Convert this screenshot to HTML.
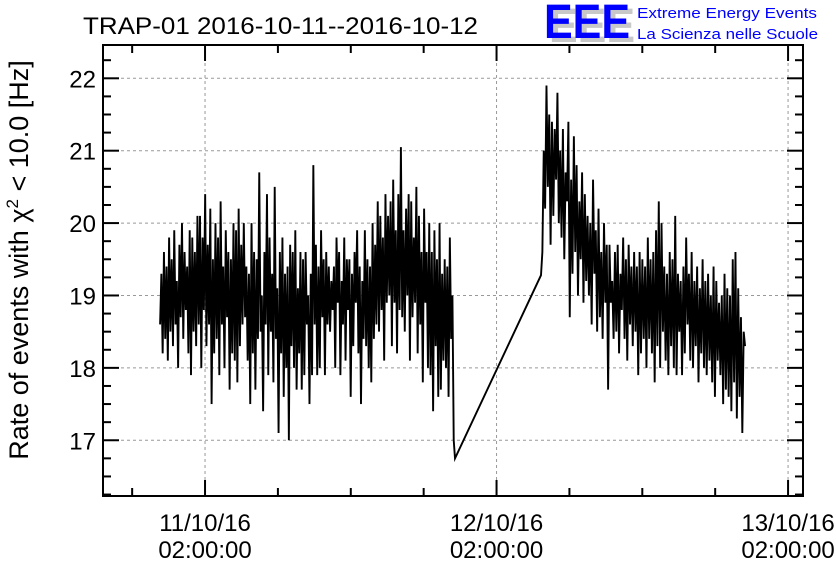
<!DOCTYPE html>
<html><head><meta charset="utf-8"><style>
html,body{margin:0;padding:0;background:#fff;}
svg{display:block;font-family:"Liberation Sans",sans-serif;}
</style></head><body>
<svg id="chart" width="836" height="572" viewBox="0 0 836 572">
<text x="83" y="34" font-size="24" fill="#000" textLength="395" lengthAdjust="spacingAndGlyphs">TRAP-01 2016-10-11--2016-10-12</text>
<g>
<text x="549" y="42" font-size="48" fill="#c8c8c8" font-weight="bold" textLength="86" lengthAdjust="spacingAndGlyphs">EEE</text>
<text x="544" y="38" font-size="48" fill="#0000ff" font-weight="bold" textLength="86" lengthAdjust="spacingAndGlyphs">EEE</text>
<text x="637" y="18" font-size="15" fill="#0000ff" textLength="180" lengthAdjust="spacingAndGlyphs">Extreme Energy Events</text>
<text x="637" y="39" font-size="15" fill="#0000ff" textLength="181" lengthAdjust="spacingAndGlyphs">La Scienza nelle Scuole</text>
</g>
<g id="grid"></g>
<g id="axes"></g>
<polyline id="series" fill="none" stroke="#000" stroke-width="1.9" stroke-linejoin="miter"/>
<rect x="103" y="45" width="700" height="451" fill="none" stroke="#000" stroke-width="2"/>
<text transform="translate(28,260) rotate(-90)" text-anchor="middle" font-size="27" fill="#000">Rate of events with χ<tspan dy="-10" font-size="17">2</tspan><tspan dy="10"> &lt; 10.0 [Hz]</tspan></text>
</svg>
<script>
const yTicks = [17, 18, 19, 20, 21, 22];
const xTickHours = [0, 24, 48];
const xTickDates = ["11/10/16", "12/10/16", "13/10/16"];
const xTickTimes = ["02:00:00", "02:00:00", "02:00:00"];
const seg1Start = -3.70, seg1End = 20.58;
const seg2Start = 27.66, seg2End = 44.46;
const seg1Values = [
18.6,19.3,18.2,19.6,18.4,19.4,18.1,19.8,18.5,19.5,
18.3,19.9,18.6,19.2,18.0,19.7,18.7,20.0,18.4,19.6,
18.8,19.4,18.2,19.9,17.9,19.8,18.5,19.6,18.3,20.1,
18.6,20.1,18.0,19.8,18.8,20.4,18.3,19.7,18.6,20.2,
17.5,19.5,18.2,20.0,18.4,19.8,17.9,20.3,18.6,19.4,
18.0,19.9,18.7,19.6,17.7,19.5,18.2,20.0,18.1,19.9,
17.8,20.2,18.3,19.7,18.6,20.0,18.7,19.4,18.1,19.3,
17.5,20.0,18.2,19.6,17.7,19.5,18.4,20.7,18.5,19.0,
17.4,19.6,18.6,20.4,17.9,19.8,18.5,19.3,17.8,20.5,
18.4,19.1,17.1,19.6,18.2,19.8,17.6,19.3,18.0,19.4,
17.0,19.7,18.3,19.6,18.0,19.9,17.7,19.1,18.2,19.6,
17.7,19.5,17.9,19.6,18.6,19.0,17.5,19.3,17.9,20.8,
18.6,19.7,17.9,19.4,18.0,19.9,18.7,19.5,17.9,19.6,
18.6,19.4,18.5,19.2,18.8,19.4,18.0,19.8,18.9,19.6,
17.9,19.2,18.6,19.8,18.1,19.5,18.8,19.5,17.6,19.3,
18.3,19.6,18.9,19.9,18.2,19.4,17.5,19.2,18.4,19.9,
18.3,19.5,18.0,19.4,17.8,20.0,18.4,19.7,18.6,20.3,
18.5,20.1,18.8,19.8,18.1,20.4,18.9,20.1,19.0,20.3,
18.3,20.6,18.9,19.9,18.2,20.4,18.8,21.05,18.7,19.9,
18.5,20.2,19.0,20.4,18.1,20.3,18.7,19.8,18.9,20.5,
18.2,20.1,18.6,19.6,17.8,20.2,18.9,19.6,18.0,20.0,
17.9,19.6,17.4,19.9,18.3,19.5,17.6,20.0,17.7,19.3,
18.1,19.5,18.0,19.4,17.6,19.8,18.4,19.0,17.0,16.75
];
const seg2Values = [
19.28,19.6,21.0,20.2,21.9,20.5,21.5,19.7,21.4,20.1,
21.3,20.6,21.8,20.0,21.0,19.8,21.3,19.5,20.7,20.3,
21.4,18.7,20.6,19.3,21.2,19.6,20.8,19.0,20.3,19.5,
20.7,18.9,20.4,19.2,20.1,19.0,20.0,18.6,20.6,19.3,
19.9,18.5,20.2,18.7,19.6,18.4,20.0,18.9,19.7,17.7,
19.7,18.9,19.2,18.4,19.6,18.5,19.7,18.2,19.3,18.8,
19.8,18.4,19.5,18.1,19.7,18.6,19.4,18.3,19.6,18.5,
19.4,17.9,19.6,18.2,19.5,18.4,19.4,18.0,19.8,18.4,
19.5,18.2,19.6,17.8,19.9,18.3,20.3,18.0,20.0,18.5,
19.4,18.1,19.3,17.9,19.6,18.3,19.5,18.0,20.1,17.9,
19.3,18.5,19.2,17.9,19.4,18.2,19.8,18.6,19.3,18.1,
19.6,18.0,19.2,18.3,19.4,17.8,19.1,18.2,19.5,18.0,
19.2,17.9,19.3,18.1,19.0,17.8,19.4,17.6,19.2,18.1,
18.9,17.9,19.0,17.5,19.3,17.7,19.1,17.6,19.0,17.4,
19.5,17.8,19.6,17.3,19.1,17.6,18.7,17.1,18.5,18.3
];
const NS='http://www.w3.org/2000/svg';
const L=103,R=803,T=45,B=496;
const xMin=-8.40,xMax=49.23,yMin=16.23,yMax=22.46;
function xs(h){return L+(h-xMin)/(xMax-xMin)*(R-L);}
function ys(v){return B-(v-yMin)/(yMax-yMin)*(B-T);}
const grid=document.getElementById('grid'),axes=document.getElementById('axes');
function mk(tag,attrs,parent){const e=document.createElementNS(NS,tag);for(const k in attrs)e.setAttribute(k,attrs[k]);parent.appendChild(e);return e;}
yTicks.forEach(v=>{
  const y=ys(v);
  const g=mk('line',{x1:L,x2:R,y1:y,y2:y,stroke:'#999','stroke-dasharray':'3,3','stroke-width':1},grid);
  
  
  mk('line',{x1:L,x2:L+16,y1:y,y2:y,stroke:'#000','stroke-width':2},axes);
  mk('line',{x1:R-16,x2:R,y1:y,y2:y,stroke:'#000','stroke-width':2},axes);
  const t=mk('text',{x:96,y:y+9,'text-anchor':'end','font-size':24},axes);
  t.textContent=String(v);
  
  
});
for(let v=16.25;v<22.5;v+=0.25){
  if(Math.abs(v-Math.round(v))<0.01)continue;
  const y=ys(v);
  mk('line',{x1:L,x2:L+8,y1:y,y2:y,stroke:'#000','stroke-width':2},axes);
  mk('line',{x1:R-8,x2:R,y1:y,y2:y,stroke:'#000','stroke-width':2},axes);
}
for(let h=-6;h<=48;h+=6){
  const x=xs(h);const major=(h%24===0);
  const len=major?16:8;
  mk('line',{x1:x,x2:x,y1:B,y2:B-len,stroke:'#000','stroke-width':2},axes);
  mk('line',{x1:x,x2:x,y1:T,y2:T+len,stroke:'#000','stroke-width':2},axes);
}
xTickHours.forEach((h,i)=>{
  const x=xs(h);
  const g=mk('line',{x1:x,x2:x,y1:T,y2:B,stroke:'#999','stroke-dasharray':'3,3','stroke-width':1},grid);
  
  
  const t1=mk('text',{x:x,y:531,'text-anchor':'middle','font-size':24},axes);
  t1.textContent=xTickDates[i];
  
  
  const t2=mk('text',{x:x,y:558,'text-anchor':'middle','font-size':24},axes);
  t2.textContent=xTickTimes[i];
  
  
});
const pts=[];
seg1Values.forEach((v,i)=>{const h=seg1Start+i*(seg1End-seg1Start)/(seg1Values.length-1);pts.push(xs(h).toFixed(2)+','+ys(v).toFixed(2));});
seg2Values.forEach((v,i)=>{const h=seg2Start+i*(seg2End-seg2Start)/(seg2Values.length-1);pts.push(xs(h).toFixed(2)+','+ys(v).toFixed(2));});
document.getElementById('series').setAttribute('points',pts.join(' '));
</script>
</body></html>
